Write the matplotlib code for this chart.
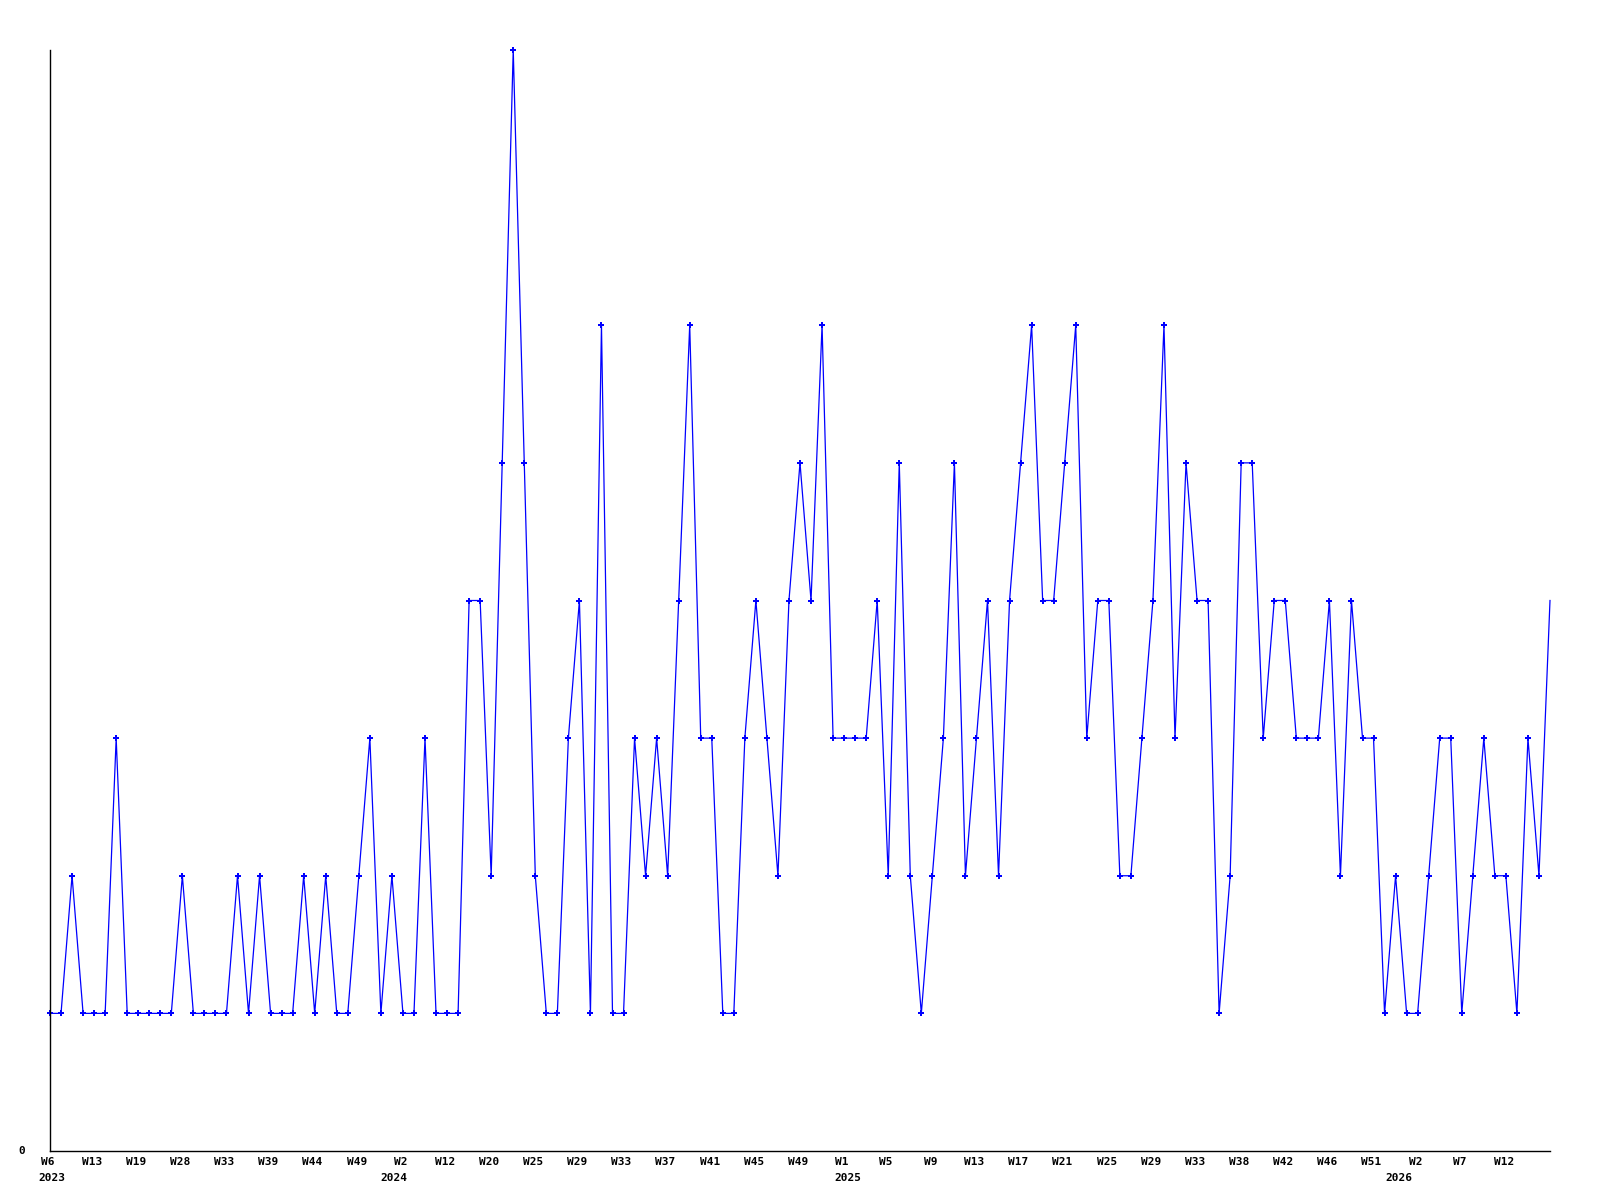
import matplotlib
matplotlib.use("Agg")
import matplotlib.pyplot as plt
import numpy as np

# ---- data ----
values = [1, 1, 2, 1, 1, 1, 3, 1, 1, 1, 1, 1, 2, 1, 1, 1, 1, 2, 1, 2, 1, 1, 1, 2, 1, 2, 1, 1, 2, 3, 1, 2, 1, 1, 3,
          1, 1, 1, 4, 4, 2, 5, 8, 5, 2, 1, 1, 3, 4, 1, 6, 1, 1, 3, 2, 3, 2, 4, 6, 3, 3, 1, 1, 3, 4, 3, 2, 4, 5,
          4, 6, 3, 3, 3, 3, 4, 2, 5, 2, 1, 2, 3, 5, 2, 3, 4, 2, 4, 5, 6, 4, 4, 5, 6, 3, 4, 4, 2, 2, 3, 4, 6, 3, 5, 4,
          4, 1, 2, 5, 5, 3, 4, 4, 3, 3, 3, 4, 2, 4, 3, 3, 1, 2, 1, 1, 2, 3, 3, 1, 2, 3, 2, 2, 1, 3, 2, 4]
week_labels = ['W6', 'W13', 'W19', 'W28', 'W33', 'W39', 'W44', 'W49', 'W2', 'W12', 'W20', 'W25',
               'W29', 'W33', 'W37', 'W41', 'W45', 'W49', 'W1', 'W5', 'W9', 'W13', 'W17', 'W21',
               'W25', 'W29', 'W33', 'W38', 'W42', 'W46', 'W51', 'W2', 'W7', 'W12']
year_labels = ['2023', '2024', '2025', '2026']
y_labels = ['0']

plt.rcParams['font.family'] = ['DejaVu Sans Mono']
plt.rcParams['font.weight'] = 'bold'

fig = plt.figure(figsize=(16, 12), dpi=100)
ax = fig.add_axes([50 / 1600, 49 / 1200, 1500 / 1600, 1101 / 1200])

x = np.arange(len(values))
ax.plot(x, values, color='#0000ff', linewidth=0.9, marker='P', markersize=4.0,
        markeredgewidth=0, markevery=slice(0, len(values) - 1), clip_on=False)

ax.set_xlim(0, len(values) - 1)
ax.set_ylim(0, max(values))

for s in ['top', 'right']:
    ax.spines[s].set_visible(False)
for s in ['left', 'bottom']:
    ax.spines[s].set_color('black')
    ax.spines[s].set_linewidth(1.0)

ax.set_xticks([])
ax.set_yticks([])

tick_idx = np.arange(0, len(week_labels) * 4, 4)
for xi, lab in zip(tick_idx, week_labels):
    ax.annotate(lab, xy=(xi, 0), xycoords=('data', 'axes fraction'),
                xytext=(-1.5, -8.2), textcoords='offset points',
                ha='center', va='center', fontsize=8, fontweight='bold')

year_pos = [0.4, 31.4, 72.5, 122.5]
for xp, lab in zip(year_pos, year_labels):
    ax.annotate(lab, xy=(xp, 0), xycoords=('data', 'axes fraction'),
                xytext=(-1.5, -19.4), textcoords='offset points',
                ha='center', va='center', fontsize=8, fontweight='bold')

ax.annotate(y_labels[0], xy=(0, 0), xycoords='data',
            xytext=(-20, 0), textcoords='offset points',
            ha='center', va='center', fontsize=8, fontweight='bold')

fig.savefig('out.png', dpi=100, facecolor='white')
